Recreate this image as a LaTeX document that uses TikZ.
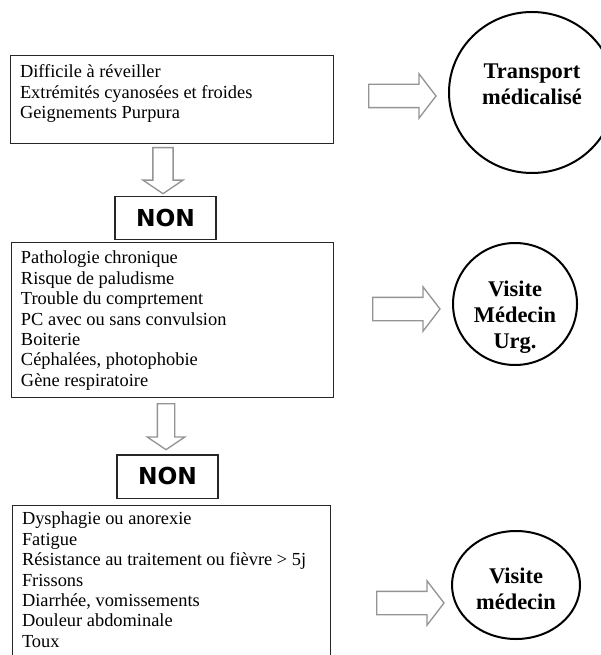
\documentclass[tikz,border=0pt]{standalone}
\usepackage{fontspec}
\setmainfont{Liberation Serif}
\newfontfamily\nonfont{DejaVu Sans}
\usetikzlibrary{shapes.geometric, shapes.arrows, positioning}

\tikzset{
  critbox/.style={rectangle, draw=black!85, line width=1pt, anchor=north west,
    inner xsep=7pt, inner ysep=0pt, font=\fontsize{13.8}{15.3}\selectfont},
  nonbox/.style={rectangle, draw=black!85, line width=1pt, inner sep=0pt,
    minimum width=75.75pt, minimum height=32.5pt,
    font=\nonfont\bfseries\fontsize{17.5}{19}\selectfont},
  outcome/.style={ellipse, draw=black, line width=1.5pt, inner sep=0pt,
    font=\bfseries\fontsize{16.8}{19.5}\selectfont},
  rarrow/.style={single arrow, draw=black!42, fill=white, line width=1pt,
    inner xsep=0pt, inner ysep=8.25pt, single arrow head extend=7.9pt,
    single arrow tip angle=105, minimum height=50.5pt, anchor=tail},
  darrow/.style={rarrow, rotate=-90, inner ysep=7.1pt, single arrow head extend=7.5pt,
    single arrow tip angle=112, minimum height=34.5pt}
}
% width, height, space above first line, lines
\newcommand{\critlist}[4]{\parbox[t][#2][t]{#1}{\vspace*{#3}#4}}
% vertical offset, lines
\newcommand{\outtext}[2]{\raisebox{#1}[0pt][0pt]{\begin{tabular}{@{}c@{}}#2\end{tabular}}}

\begin{document}
\begin{tikzpicture}[x=0.75pt,y=-0.75pt]
  \path[fill=white] (0,0) rectangle (600,655);
  \useasboundingbox (0,0) rectangle (600,655);

  % level 1
  \node (crit1) [critbox] at (10,55) {\critlist{228pt}{66pt}{7pt}{Difficile à réveiller\\
    Extrémités cyanosées et froides\\
    Geignements Purpura}};
  \node (out1) [outcome, minimum width=124.5pt, minimum height=120.75pt] at (532,92.5)
    {\outtext{0pt}{Transport\\médicalisé}};
  \node (go1) [rarrow] at (368,96) {};
  \node (down1) [darrow] at (163,147) {};
  \node (non1) [nonbox] at (165.5,218) {NON};

  % level 2
  \node (crit2) [critbox] at (11,242) {\critlist{227.5pt}{116.25pt}{6.3pt}{Pathologie chronique\\
    Risque de paludisme\\
    Trouble du comprtement\\
    PC avec ou sans convulsion\\
    Boiterie\\
    Céphalées, photophobie\\
    Gène respiratoire}};
  \node (out2) [outcome, minimum width=93pt, minimum height=91.5pt] at (515,304)
    {\outtext{-14pt}{Visite\\Médecin\\Urg.}};
  \node (go2) [rarrow] at (372,309) {};
  \node (down2) [darrow, inner ysep=6pt] at (166,403) {};
  \node (non2) [nonbox] at (167.5,476.5) {NON};

  % level 3
  \node (crit3) [critbox] at (12,505) {\critlist{224.5pt}{125pt}{4.9pt}{Dysphagie ou anorexie\\
    Fatigue\\
    Résistance au traitement ou fièvre > 5j\\
    Frissons\\
    Diarrhée, vomissements\\
    Douleur abdominale\\
    Toux}};
  \node (out3) [outcome, minimum width=96pt, minimum height=81pt] at (516,585)
    {\outtext{-9pt}{Visite\\médecin}};
  \node (go3) [rarrow] at (376,603) {};

\end{tikzpicture}
\end{document}
